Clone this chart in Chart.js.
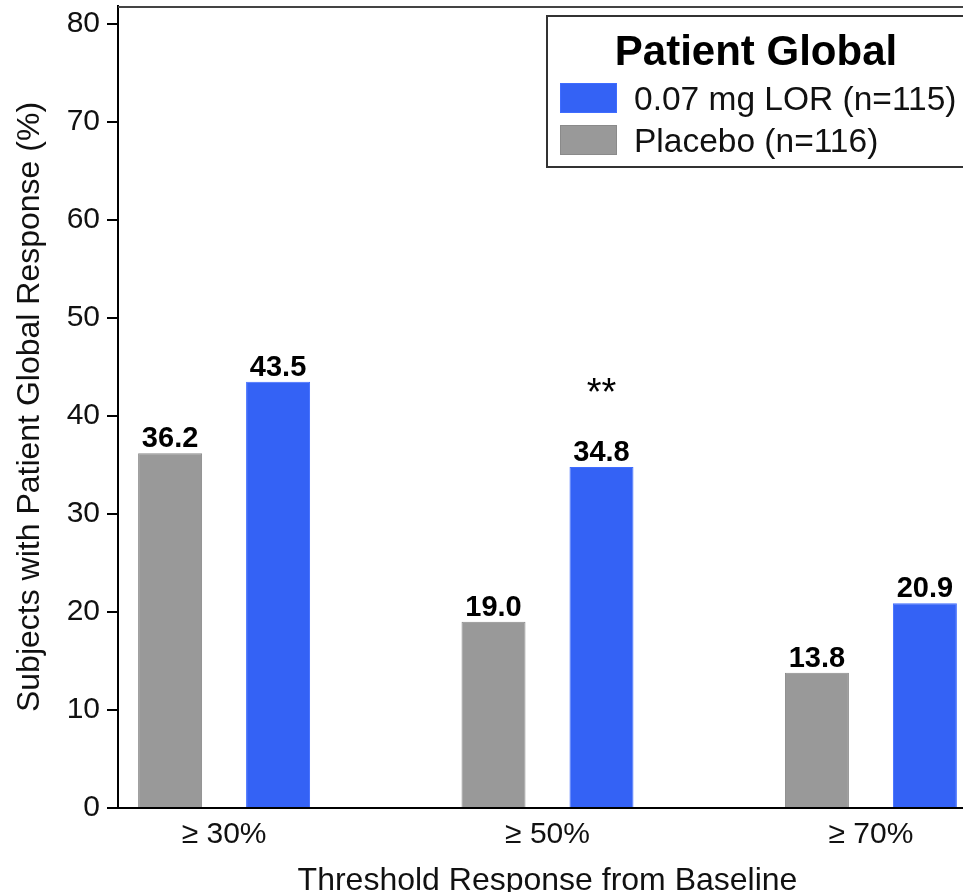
<!DOCTYPE html>
<html>
<head>
<meta charset="utf-8">
<script src="https://cdn.jsdelivr.net/npm/chart.js@4.4.1/dist/chart.umd.min.js"></script>
<style>
  html, body { margin: 0; padding: 0; background: #fff; }
  #wrap { width: 963px; height: 892px; overflow: hidden; position: relative; }
  #chart { position: absolute; left: 0; top: 0; }
</style>
</head>
<body>
<div id="wrap"><canvas id="chart" width="980" height="892"></canvas></div>
<script>
const categories = ['\u2265 30%', '\u2265 50%', '\u2265 70%'];
const placeboValues = [36.2, 19.0, 13.8];
const lorValues = [43.5, 34.8, 20.9];
const lorMarks = ['', '**', ''];
const yTicks = [0, 10, 20, 30, 40, 50, 60, 70, 80];

const FONT = '"Liberation Sans", Arial, Helvetica, sans-serif';

const valueLabels = {
    id: 'valueLabels',
    afterDatasetsDraw(chart) {
        const ctx = chart.ctx;
        ctx.save();
        ctx.fillStyle = '#000';
        ctx.textAlign = 'center';
        ctx.textBaseline = 'alphabetic';
        chart.data.datasets.forEach((ds, di) => {
            const meta = chart.getDatasetMeta(di);
            meta.data.forEach((bar, i) => {
                ctx.font = 'bold 29px ' + FONT;
                ctx.fillText(ds.data[i].y.toFixed(1), bar.x, bar.y - 6);
                const mark = ds.marks ? ds.marks[i] : '';
                if (mark) {
                    ctx.font = '38px ' + FONT;
                    ctx.fillText(mark, bar.x, bar.y - 62);
                }
            });
        });
        ctx.restore();
    }
};

const frameAndLegend = {
    id: 'frameAndLegend',
    afterDraw(chart) {
        const ctx = chart.ctx;
        const area = chart.chartArea;
        ctx.save();
        // top frame line
        ctx.strokeStyle = '#444';
        ctx.lineWidth = 2;
        ctx.beginPath();
        ctx.moveTo(area.left, area.top + 1);
        ctx.lineTo(area.right, area.top + 1);
        ctx.stroke();

        // legend box
        const bx = 547, by = 16, bw = 418, bh = 151;
        ctx.fillStyle = '#fff';
        ctx.fillRect(bx, by, bw, bh);
        ctx.strokeStyle = '#333';
        ctx.lineWidth = 2;
        ctx.strokeRect(bx, by, bw, bh);

        ctx.fillStyle = '#000';
        ctx.textAlign = 'center';
        ctx.textBaseline = 'alphabetic';
        ctx.font = 'bold 42px ' + FONT;
        ctx.fillText('Patient Global', 756, 65);

        const items = chart.data.datasets.slice().reverse();
        items.forEach((ds, k) => {
            const cy = 98 + k * 42;
            ctx.fillStyle = ds.backgroundColor;
            ctx.fillRect(560, cy - 15, 57, 30);
            ctx.strokeStyle = ds.borderColor;
            ctx.lineWidth = 1;
            ctx.strokeRect(560.5, cy - 14.5, 56, 29);
            ctx.fillStyle = '#111';
            ctx.textAlign = 'left';
            ctx.font = '33.5px ' + FONT;
            ctx.fillText(ds.label, 634, cy + 12);
        });
        ctx.restore();
    }
};

new Chart(document.getElementById('chart'), {
    type: 'bar',
    data: {
        datasets: [
            {
                label: 'Placebo (n=116)',
                data: placeboValues.map((v, i) => ({ x: i, y: v })),
                backgroundColor: '#999999',
                borderColor: '#8a8a8a',
                borderWidth: 1,
                borderSkipped: 'bottom'
            },
            {
                label: '0.07 mg LOR (n=115)',
                data: lorValues.map((v, i) => ({ x: i, y: v })),
                marks: lorMarks,
                backgroundColor: '#3462F5',
                borderColor: '#3f6cff',
                borderWidth: 1,
                borderSkipped: 'bottom'
            }
        ]
    },
    options: {
        responsive: false,
        animation: false,
        events: [],
        categoryPercentage: 0.6677,
        barPercentage: 0.5926,
        layout: { padding: { top: 6, right: 3, left: 0, bottom: 0 } },
        plugins: {
            legend: { display: false },
            tooltip: { enabled: false }
        },
        scales: {
            x: {
                type: 'linear',
                offset: false,
                min: -0.328,
                max: 2.328,
                afterBuildTicks: (scale) => {
                    scale.ticks = categories.map((c, i) => ({ value: i }));
                },
                afterFit: (scale) => {
                    scale.height = 84;
                    scale.paddingLeft = 0;
                    scale.paddingRight = 0;
                },
                ticks: {
                    callback: (value) => categories[value],
                    color: '#111',
                    padding: 9,
                    autoSkip: false,
                    maxRotation: 0,
                    font: { family: FONT, size: 30 }
                },
                grid: { drawOnChartArea: false, drawTicks: false },
                border: { display: true, color: '#000', width: 2 },
                title: {
                    display: true,
                    text: 'Threshold Response from Baseline',
                    color: '#111',
                    padding: { top: 0, bottom: 0 },
                    font: { family: FONT, size: 32, lineHeight: 0.65 }
                }
            },
            y: {
                min: 0,
                max: 81.84,
                afterBuildTicks: (scale) => {
                    scale.ticks = yTicks.map(v => ({ value: v }));
                },
                afterFit: (scale) => {
                    scale.width = 118;
                    scale.paddingTop = 0;
                    scale.paddingBottom = 0;
                },
                ticks: {
                    color: '#111',
                    padding: 7,
                    font: { family: FONT, size: 30 }
                },
                grid: {
                    drawOnChartArea: false,
                    drawTicks: true,
                    tickLength: 11,
                    color: '#000',
                    lineWidth: 2
                },
                border: { display: true, color: '#000', width: 2 },
                title: {
                    display: true,
                    text: 'Subjects with Patient Global Response (%)',
                    color: '#111',
                    padding: { top: 11, bottom: 0 },
                    font: { family: FONT, size: 32 }
                }
            }
        }
    },
    plugins: [valueLabels, frameAndLegend]
});
</script>
</body>
</html>
